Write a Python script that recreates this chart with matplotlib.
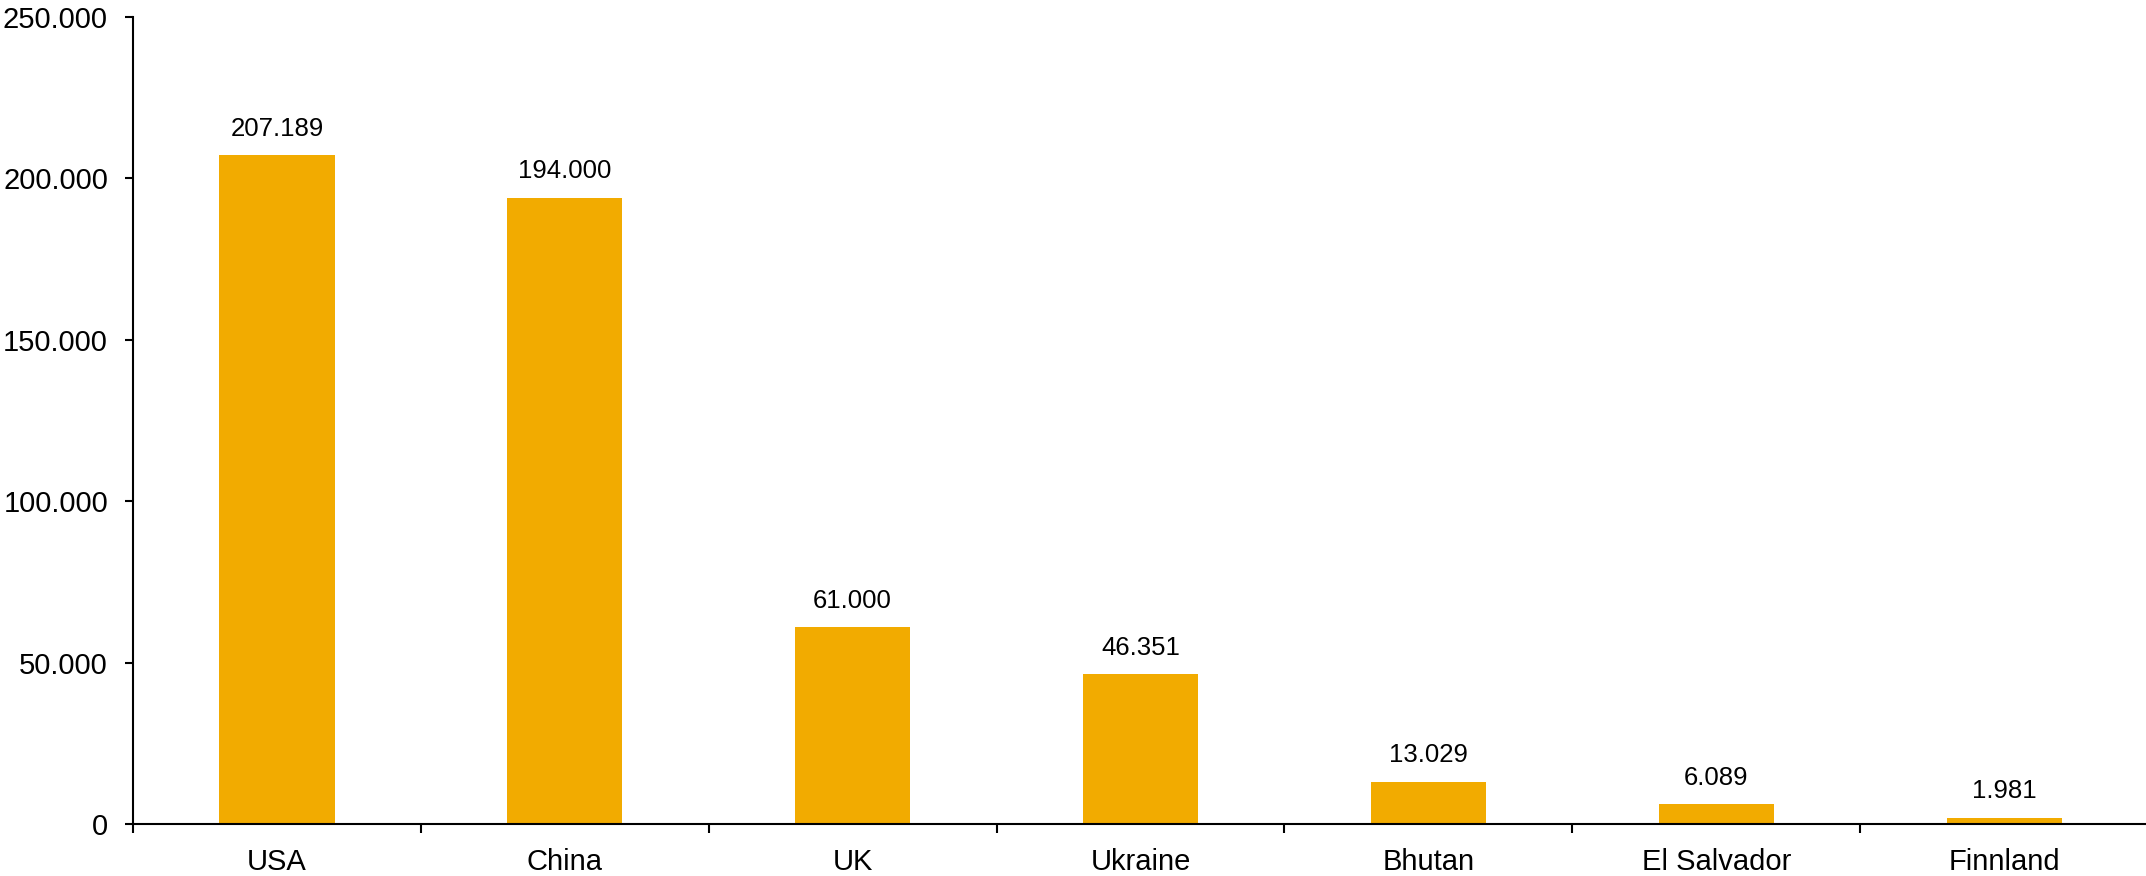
import matplotlib.pyplot as plt
import matplotlib.ticker as mticker
import numpy as np

#====================================
# Data

countries = ["USA", "China", "UK", "Ukraine", "Bhutan", "El Salvador", "Finnland"]
values = [207189, 194000, 61000, 46351, 13029, 6089, 1981]
yticks = [0, 50000, 100000, 150000, 200000, 250000]

barColor = "#F2AB00"

def fmt(v):
    return "{:,}".format(int(v)).replace(",", ".")

#====================================
# Plot

plt.rcParams['font.family'] = ['Liberation Sans', 'DejaVu Sans']

fig = plt.figure(figsize=(21.46, 8.76), dpi=100)
ax = fig.add_axes([133/2146, 1-824/876, 2015/2146, (824-17)/876])

x = np.arange(len(countries))
ax.bar(x, values, width=0.4, color=barColor, zorder=2)

for xi, v in zip(x, values):
    ax.annotate(fmt(v), (xi, v), xytext=(0, 10.5), textcoords="offset points",
                ha="center", va="bottom", fontsize=18.5, color="black")

ax.set_xlim(-0.5, len(countries) - 0.5)
ax.set_ylim(0, 250000)
ax.set_yticks(yticks)
ax.yaxis.set_major_formatter(mticker.FuncFormatter(lambda v, p: fmt(v)))

ax.set_xticks(x)
ax.set_xticklabels(countries)
ax.set_xticks(np.arange(len(countries)) - 0.5, minor=True)
ax.tick_params(axis="x", which="major", length=0, pad=17, labelsize=21)
ax.tick_params(axis="x", which="minor", length=6.5, width=1.5, direction="out")
ax.tick_params(axis="y", length=6, width=1.5, pad=12, labelsize=21)

for s in ["top", "right"]:
    ax.spines[s].set_visible(False)
for s in ["left", "bottom"]:
    ax.spines[s].set_linewidth(1.5)

fig.savefig("out.png", dpi=100)
